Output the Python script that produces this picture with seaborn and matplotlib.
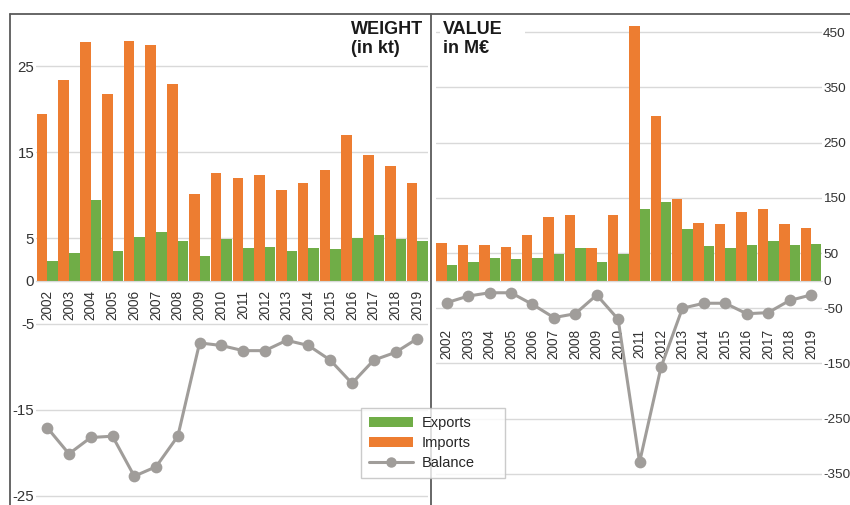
import seaborn as sns
import matplotlib.pyplot as plt
import pandas as pd
from matplotlib.lines import Line2D
from matplotlib.patches import Patch, Rectangle

# data
years = [str(y) for y in range(2002, 2020)]

weight_imports = [19.4, 23.4, 27.75, 21.7, 27.9, 27.4, 22.9, 10.15, 12.6,
                  12.0, 12.3, 10.6, 11.4, 12.9, 17.0, 14.7, 13.4, 11.4]
weight_exports = [2.3, 3.2, 9.4, 3.5, 5.15, 5.65, 4.7, 2.9, 4.9,
                  3.8, 4.0, 3.5, 3.8, 3.7, 5.05, 5.3, 4.9, 4.6]
weight_balance = [-17.05, -20.1, -18.2, -18.05, -22.7, -21.6, -18.05, -7.2, -7.5,
                  -8.1, -8.1, -6.9, -7.5, -9.2, -11.9, -9.2, -8.3, -6.7]

value_imports = [68.7, 63.9, 63.9, 61.4, 83.2, 115.8, 118.3, 59.1, 118.3,
                 461, 298, 147, 104, 102, 123.7, 130, 102, 95.3]
value_exports = [28.8, 33.7, 41, 38.6, 41, 47.6, 59.6, 33.7, 47.6,
                 130, 142.4, 93, 62, 59.6, 63.9, 71.7, 63.9, 66.8]
value_balance = [-40, -28, -22, -22, -43, -67, -60, -26, -70,
                 -329, -157, -50, -41, -41, -60, -58, -36, -26]

weight_ticks = [-25, -15, -5, 0, 5, 15, 25]
value_ticks = [-350, -250, -150, -50, 0, 50, 150, 250, 350, 450]

ORANGE = "#ED7D31"
GREEN = "#70AD47"
GRAY = "#A09D9A"
GRID = "#D9D9D9"

sns.set_style("white")
plt.rcParams["font.family"] = ["Liberation Sans", "DejaVu Sans"]
plt.rcParams["axes.unicode_minus"] = False

W, H = 850, 505
fig = plt.figure(figsize=(8.5, 5.05), dpi=100)


def px(x0, y0, x1, y1):
    # pixel box -> figure fraction [left, bottom, width, height]
    return [x0 / W, 1 - y1 / H, (x1 - x0) / W, (y1 - y0) / H]


def draw_panel(ax, imports, exports, balance, ticks, ylim, label_pad, ysize, ypad):
    df = pd.DataFrame({
        "year": years * 2,
        "value": imports + exports,
        "flow": ["Imports"] * len(years) + ["Exports"] * len(years),
    })
    sns.barplot(data=df, x="year", y="value", hue="flow",
                hue_order=["Imports", "Exports"],
                palette={"Imports": ORANGE, "Exports": GREEN},
                width=0.97, gap=0, saturation=1, errorbar=None,
                linewidth=0, legend=False, ax=ax)
    sns.pointplot(x=years, y=balance, color=GRAY, markers="o",
                  markersize=6.8, linewidth=2.2, errorbar=None, ax=ax)
    ax.set_xlim(-0.5, len(years) - 0.5)
    ax.set_ylim(*ylim)
    ax.set_yticks(ticks)
    ax.grid(axis="y", color=GRID, linewidth=1)
    ax.set_axisbelow(True)
    for s in ["top", "left", "right"]:
        ax.spines[s].set_visible(False)
    ax.spines["bottom"].set_position(("data", 0))
    ax.spines["bottom"].set_color(GRID)
    ax.tick_params(axis="x", length=0, pad=label_pad, rotation=90,
                   labelsize=9.8, colors="#333333")
    ax.tick_params(axis="y", length=0, pad=ypad, labelsize=ysize,
                   colors="#333333")
    ax.set_xlabel("")
    ax.set_ylabel("")
    ax.patch.set_alpha(0)


# WEIGHT panel
ax1 = fig.add_axes(px(36.3, 14, 428.2, 505))
draw_panel(ax1, weight_imports, weight_exports, weight_balance,
           weight_ticks, (-26.05, 31.05), 6.5, 10.8, 1.5)

# VALUE panel
ax2 = fig.add_axes(px(436, 14, 821.7, 505))
draw_panel(ax2, value_imports, value_exports, value_balance,
           value_ticks, (-406.5, 483), 35, 9.7, 1)
ax2.yaxis.tick_right()

# outer frame and divider
frame = dict(color="#5A5A5A", linewidth=1.3, zorder=3,
             transform=fig.transFigure)
fig.add_artist(Line2D([10 / W, 1], [1 - 14 / H] * 2, **frame))
fig.add_artist(Line2D([10 / W] * 2, [0, 1 - 14 / H], **frame))
fig.add_artist(Line2D([431 / W] * 2, [0, 1 - 14 / H], **frame))

# panel titles
fig.text(351 / W, 1 - 21.5 / H, "WEIGHT\n(in kt)", ha="left", va="top",
         fontsize=13, fontweight="bold", color="#1a1a1a", linespacing=1.15,
         zorder=4)
fig.add_artist(Rectangle((440 / W, 1 - 66 / H), 85 / W, 48 / H,
                         transform=fig.transFigure, facecolor="white",
                         edgecolor="none", zorder=3))
fig.text(443 / W, 1 - 21.5 / H, "VALUE\nin M€", ha="left", va="top",
         fontsize=13, fontweight="bold", color="#1a1a1a", linespacing=1.15,
         zorder=4)

# shared legend
handles = [
    Patch(facecolor=GREEN, edgecolor="none"),
    Patch(facecolor=ORANGE, edgecolor="none"),
    Line2D([], [], color=GRAY, linewidth=2.2, marker="o", markersize=6.5),
]
leg = fig.legend(handles, ["Exports", "Imports", "Balance"],
                 loc="upper left",
                 bbox_to_anchor=(361 / W, 1 - 479 / H, 144 / W, 71 / H),
                 mode="expand",
                 frameon=True, fancybox=False, edgecolor="#BFBFBF",
                 fontsize=10.5, handlelength=3.0, handleheight=0.6,
                 labelspacing=0.42, borderpad=0.55, handletextpad=0.6,
                 borderaxespad=0)
leg.get_frame().set_linewidth(1)
leg.set_zorder(6)

fig.savefig("out.png", dpi=100, facecolor="white")
